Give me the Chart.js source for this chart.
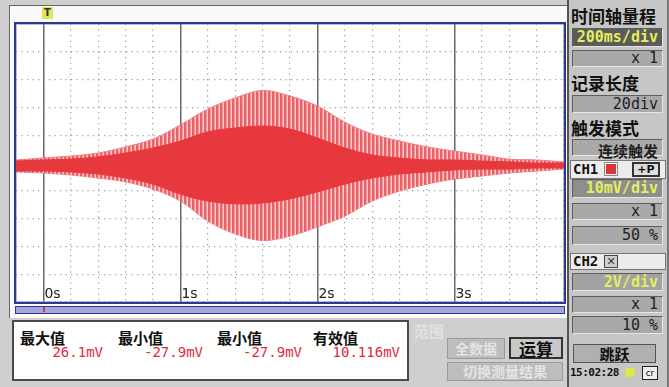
<!DOCTYPE html>
<html>
<head>
<meta charset="utf-8">
<script src="https://cdn.jsdelivr.net/npm/chart.js@4.4.0/dist/chart.umd.min.js"></script>
<style>
body { margin:0; width:669px; height:387px; background:#cfcfcf; position:relative; overflow:hidden; font-family:"Noto Sans CJK SC", sans-serif; }
.a { position:absolute; box-sizing:border-box; }
#frame { left:9px; top:5px; width:558px; height:313px; background:#fafafa; border-left:1px solid #666; border-top:1px solid #666; }
#plot { left:14px; top:22px; width:552px; height:282px; border:2px solid #2b3992; background:#fff; box-shadow:inset 0 0 0 1px #b9bbe8; }
#chart { position:absolute; left:16px; top:24px; }
#scroll { left:15px; top:306px; width:550px; height:8px; border:1px solid #2b3992; background:#a7a5dd; }
#mark { left:43px; top:307px; width:2px; height:5px; background:#e23a3a; }
#trig { left:42px; top:7px; width:11px; height:12px; background:#d9e85c; font:bold 10px "DejaVu Sans"; text-align:center; line-height:12px; color:#333; }
#panel { left:567px; top:0; width:102px; height:387px; background:#c6c6c6; border-left:2px solid #555; border-right:2px solid #777; }
.lbl { left:571px; width:94px; font-weight:bold; font-size:17px; line-height:20px; color:#111; white-space:nowrap; }
.box { left:572px; width:91px; background:#a9a9a9; border:1px solid; border-color:#5e5e5e #e6e6e6 #e6e6e6 #5e5e5e; text-align:right; padding-right:4px; font:15px "DejaVu Sans Mono"; color:#1e1e1e; white-space:nowrap; }
.yel { color:#e4ee5e; font:bold 15px "DejaVu Sans Mono"; }
#meas { left:12px; top:320px; width:397px; height:61px; background:#fff; border:2px solid #4a4a4a; }
.mh { top:327px; font-weight:bold; font-size:15px; color:#111; }
.mv { top:344px; width:110px; text-align:right; font:14px "DejaVu Sans Mono"; color:#e2283c; }
.btn { background:#bdbdbd; border:1px solid #9a9a9a; text-align:center; font-weight:bold; color:#e4e4e4; }
</style>
</head>
<body>
<div class="a" id="frame"></div>
<div class="a" id="trig">T</div>
<div class="a" id="plot"></div>
<canvas id="chart" width="548" height="278"></canvas>
<div class="a" id="scroll"></div>
<div class="a" id="mark"></div>

<div class="a" id="meas"></div>
<div class="a mh" style="left:20px">最大值</div>
<div class="a mh" style="left:118px">最小值</div>
<div class="a mh" style="left:217px">最小值</div>
<div class="a mh" style="left:313px">有效值</div>
<div class="a mv" style="left:-7px">26.1mV</div>
<div class="a mv" style="left:93px">-27.9mV</div>
<div class="a mv" style="left:192px">-27.9mV</div>
<div class="a mv" style="left:290px">10.116mV</div>

<div class="a" style="left:414px;top:320px;font-weight:bold;font-size:15px;color:#e2e2e2">范围</div>
<div class="a btn" style="left:447px;top:338px;width:58px;height:21px;font-size:14px;line-height:19px">全数据</div>
<div class="a btn" style="left:509px;top:337px;width:54px;height:22px;font-size:17px;line-height:20px;color:#111;background:#c9c9c9;border:2px solid #333">运算</div>
<div class="a btn" style="left:447px;top:362px;width:116px;height:19px;font-size:14px;line-height:17px">切换测量结果</div>

<div class="a" id="panel"></div>
<div class="a lbl" style="top:6px">时间轴量程</div>
<div class="a box yel" style="top:28px;height:19px;background:#5b5b5b;line-height:17px">200ms/div</div>
<div class="a box" style="top:50px;height:17px;line-height:15px">x 1</div>
<div class="a lbl" style="top:73px">记录长度</div>
<div class="a box" style="top:95px;height:18px;line-height:16px">20div</div>
<div class="a lbl" style="top:118px">触发模式</div>
<div class="a box" style="top:139px;height:17px;line-height:15px;font:bold 15px 'Noto Sans CJK SC'">连续触发</div>
<div class="a" style="left:570px;top:160px;width:96px;height:19px;background:#ececec;border:1px solid #777"></div>
<div class="a" style="left:573px;top:160px;font:bold 14px 'DejaVu Sans Mono';line-height:19px;color:#111">CH1</div>
<div class="a" style="left:605px;top:163px;width:12px;height:12px;background:#e23434;border:1px solid #fff;outline:1px solid #888"></div>
<div class="a" style="left:632px;top:162px;width:28px;height:15px;border:2px solid #333;background:#ddd;font:bold 11px 'DejaVu Sans';line-height:11px;text-align:center;color:#111">+P</div>
<div class="a box yel" style="top:179px;height:19px;background:#8e8e8e;line-height:17px">10mV/div</div>
<div class="a box" style="top:203px;height:17px;line-height:15px">x 1</div>
<div class="a box" style="top:226px;height:19px;line-height:17px">50 %</div>
<div class="a" style="left:570px;top:253px;width:96px;height:17px;background:#ececec;border:1px solid #777"></div>
<div class="a" style="left:573px;top:253px;font:bold 14px 'DejaVu Sans Mono';line-height:17px;color:#111">CH2</div>
<div class="a" style="left:604px;top:255px;width:14px;height:13px;border:1px solid #444;background:#cfcfcf;font:11px 'DejaVu Sans';line-height:11px;text-align:center;color:#333">✕</div>
<div class="a box yel" style="top:273px;height:18px;background:#a2a2a2;line-height:16px">2V/div</div>
<div class="a box" style="top:296px;height:17px;line-height:15px">x 1</div>
<div class="a box" style="top:316px;height:18px;line-height:16px">10 %</div>
<div class="a" style="left:573px;top:344px;width:83px;height:19px;background:#b0b0b0;border:1px solid #555;text-align:center;font-weight:bold;font-size:15px;line-height:17px;color:#111">跳跃</div>
<div class="a" style="left:570px;top:366px;font:bold 11px 'DejaVu Sans Mono';color:#111;letter-spacing:-0.5px">15:02:28</div>
<div class="a" style="left:625px;top:368px;width:10px;height:9px;background:#dfe84a;border-radius:3px"></div>
<div class="a" style="left:642px;top:366px;width:16px;height:14px;border:1px solid #222;background:#eee;font:9px 'DejaVu Sans';line-height:12px;text-align:center;color:#111">cr</div>

<script>
// time axis, seconds (200ms/div, 20 div)
var times = [-0.2, 0, 0.2, 0.4, 0.6, 0.8, 1.0, 1.2, 1.4, 1.6, 1.8, 2.0, 2.2, 2.4, 2.6, 2.8, 3.0, 3.2, 3.4, 3.6, 3.8];
// envelope of the CH1 waveform, mV
var outerMax = [1.1, 1.8, 2.5, 3.6, 5.8, 8.6, 13.7, 19.4, 23.4, 26.1, 24.1, 20.5, 14.7, 10.4, 7.9, 5.8, 4.3, 2.9, 1.4, 1.1, 0.4];
var outerMin = [-3.2, -3.6, -4.3, -5.4, -6.8, -9.4, -13.7, -20.9, -25.5, -27.9, -26.3, -23.0, -19.1, -13.7, -10.1, -7.6, -5.8, -4.7, -3.6, -2.9, -2.2];
var innerMax = [0.7, 1.1, 1.4, 2.2, 3.6, 5.4, 7.9, 11.2, 12.6, 13.3, 12.2, 9.0, 5.4, 2.9, 1.8, 1.1, 1.1, 0.7, 0.4, 0, 0];
var innerMin = [-2.9, -2.9, -3.2, -4.0, -5.4, -7.6, -11.2, -13.7, -14.7, -14.4, -12.9, -10.4, -7.6, -5.4, -4.0, -3.2, -2.5, -2.2, -2.2, -1.8, -1.8];
var timeTicks = [0, 1, 2, 3];
var timeLabels = ['0s', '1s', '2s', '3s'];

function pts(arr) {
    return arr.map(function(v, i) { return {x: times[i], y: v}; });
}

var canvas = document.getElementById('chart');
var ctx = canvas.getContext('2d');

// vertical stripe fill for the sparse outer part of the waveform
var pc = document.createElement('canvas');
pc.width = 4; pc.height = 4;
var p = pc.getContext('2d');
p.fillStyle = '#f8cdcd'; p.fillRect(0, 0, 4, 4);
p.fillStyle = '#ea6267'; p.fillRect(0, 0, 2, 4);
p.fillStyle = '#f29a9c'; p.fillRect(2, 0, 1, 4);
var stripes = ctx.createPattern(pc, 'repeat');

var timeLabelPlugin = {
    id: 'timeLabels',
    afterDatasetsDraw: function(chart) {
        var c = chart.ctx, area = chart.chartArea, sx = chart.scales.x;
        c.save();
        c.font = '14px "DejaVu Sans"';
        c.fillStyle = '#222';
        c.textBaseline = 'bottom';
        timeTicks.forEach(function(t, i) {
            c.fillText(timeLabels[i], sx.getPixelForValue(t) + 1, area.bottom - 1);
        });
        c.restore();
    }
};

var common = {pointRadius: 0, borderWidth: 1, tension: 0.35};

new Chart(ctx, {
    type: 'line',
    data: {
        datasets: [
            Object.assign({data: pts(outerMax), borderColor: '#ef8084', backgroundColor: stripes, fill: '+1', order: 2}, common),
            Object.assign({data: pts(outerMin), borderColor: '#ef8084', backgroundColor: stripes, fill: false, order: 2}, common),
            Object.assign({data: pts(innerMax), borderColor: '#e7393d', backgroundColor: '#e7393d', fill: '+1', order: 1}, common),
            Object.assign({data: pts(innerMin), borderColor: '#e7393d', backgroundColor: '#e7393d', fill: false, order: 1}, common)
        ]
    },
    options: {
        responsive: false,
        animation: false,
        layout: {padding: 0},
        plugins: {legend: {display: false}, tooltip: {enabled: false}},
        scales: {
            x: {
                type: 'linear', min: -0.2, max: 3.8,
                ticks: {display: false, stepSize: 0.2, maxTicksLimit: 100},
                grid: {color: '#9c9c9c', lineWidth: 1.2, drawTicks: false},
                border: {display: false, dash: [1.2, 4.3]}
            },
            x2: {
                type: 'linear', position: 'bottom', min: -0.2, max: 3.8,
                afterBuildTicks: function(s) { s.ticks = timeTicks.map(function(v) { return {value: v}; }); },
                ticks: {display: false},
                grid: {color: '#6a6a6a', lineWidth: 1.5, drawTicks: false},
                border: {display: false}
            },
            y: {
                min: -50, max: 50,
                ticks: {display: false, stepSize: 10},
                grid: {color: '#9c9c9c', lineWidth: 1.2, drawTicks: false},
                border: {display: false, dash: [1.2, 4.3]}
            }
        }
    },
    plugins: [timeLabelPlugin]
});
</script>
</body>
</html>
